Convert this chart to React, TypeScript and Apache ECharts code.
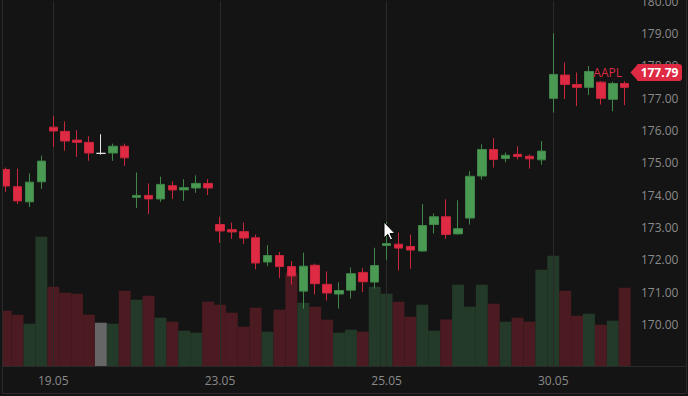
import React, { useEffect, useRef } from "react";
import * as echarts from "echarts";

// Hourly candles: 18.05 (last 4 hours), 19.05, 22.05, 23.05, 24.05, 25.05, 26.05, 30.05
const opens = [
  174.79, 174.26, 173.79, 174.41,
  176.10, 175.97, 175.70, 175.63, 175.29, 175.30, 175.51,
  173.93, 173.99, 173.88, 174.29, 174.16, 174.22, 174.36,
  173.09, 172.93, 172.87, 172.68, 171.93, 172.13, 171.79,
  171.03, 171.83, 171.24, 170.94, 171.06, 171.61, 171.31,
  172.44, 172.48, 172.41, 172.27, 173.09, 173.33, 172.80,
  173.29, 174.59, 175.41, 175.13, 175.26, 175.20, 175.09,
  176.99, 177.71, 177.42, 177.33, 177.49, 176.96, 177.45,
];
const closes = [
  174.28, 173.82, 174.40, 175.05,
  175.98, 175.67, 175.63, 175.30, 175.29, 175.51, 175.15,
  173.99, 173.88, 174.33, 174.16, 174.23, 174.36, 174.22,
  172.89, 172.86, 172.67, 171.90, 172.13, 171.79, 171.50,
  171.80, 171.26, 170.97, 171.05, 171.57, 171.32, 171.82,
  172.50, 172.36, 172.30, 173.06, 173.33, 172.78, 172.96,
  174.58, 175.41, 175.10, 175.23, 175.19, 175.12, 175.36,
  177.73, 177.42, 177.33, 177.82, 176.99, 177.45, 177.33,
];
const lows = [
  174.10, 173.72, 173.63, 174.19,
  175.49, 175.37, 175.18, 175.06, 175.25, 175.06, 174.90,
  173.60, 173.41, 173.79, 173.88, 173.82, 174.07, 174.00,
  172.52, 172.65, 172.49, 171.71, 171.80, 171.43, 171.23,
  170.49, 170.93, 170.74, 170.49, 170.80, 171.00, 171.11,
  172.00, 171.67, 171.72, 172.25, 172.81, 172.65, 172.78,
  173.09, 174.48, 174.85, 175.01, 175.10, 174.82, 174.94,
  176.55, 176.97, 176.75, 177.09, 176.80, 176.59, 176.78,
];
const highs = [
  174.85, 174.82, 174.67, 175.22,
  176.44, 176.28, 176.01, 175.82, 175.88, 175.59, 175.59,
  174.70, 174.36, 174.57, 174.43, 174.49, 174.61, 174.49,
  173.33, 173.15, 173.15, 172.78, 172.45, 172.24, 171.96,
  172.22, 171.88, 171.64, 171.30, 171.76, 171.74, 172.37,
  173.17, 172.84, 172.78, 173.72, 173.43, 173.87, 173.84,
  174.74, 175.57, 175.76, 175.32, 175.51, 175.26, 175.67,
  179.00, 178.10, 177.79, 177.99, 177.52, 177.51, 177.52,
];
// volume, millions of shares
const volumes = [
  2.79, 2.59, 2.14, 6.49,
  3.99, 3.69, 3.64, 2.59, 2.19, 2.14, 3.79,
  3.34, 3.54, 2.44, 2.24, 1.79, 1.69, 3.24,
  3.09, 2.69, 1.99, 2.94, 1.74, 2.84, 4.69,
  3.19, 2.99, 2.34, 1.69, 1.84, 1.74, 3.99,
  3.64, 3.24, 2.49, 3.09, 1.79, 2.35, 4.09,
  2.99, 4.09, 3.14, 2.24, 2.44, 2.24, 4.84,
  5.54, 3.79, 2.54, 2.64, 2.09, 2.29, 3.94,
];
const xTickIdx = [4, 18, 32, 46];
const xTickLabels = ["19.05", "23.05", "25.05", "30.05"];
const yTicks = [170, 171, 172, 173, 174, 175, 176, 177, 178, 179, 180];
const lastPrice = 177.79;
const symbolName = "AAPL";

const BG = "#141414";
const UP = "#4a9a54";
const UP_B = "#3f8648";
const DOWN = "#de2a43";
const DOWN_B = "#c9253b";
const VOL_UP = "#243a28";
const VOL_DOWN = "#4b1b21";
const VOL_FLAT = "#666666";
const TXT = "#8a8a8a";
const LINE = "#2a2a2a";
const FONT = "'Open Sans', 'Noto Sans', sans-serif";

export default function App() {
  const ref = useRef<HTMLDivElement>(null);
  useEffect(() => {
    if (!ref.current) return;
    const chart = echarts.init(ref.current, null, { renderer: "svg" });
    const candleData = opens.map((o, i) => {
      const item: any = { value: [i, o, closes[i], lows[i], highs[i]] };
      if (o === closes[i]) {
        item.itemStyle = {
          color: "#777777",
          color0: "#777777",
          borderColor: "#e6e6e6",
          borderColor0: "#e6e6e6",
        };
      }
      return item;
    });
    const volData = volumes.map((v, i) => ({
      value: [i, v],
      itemStyle: {
        color:
          opens[i] === closes[i] ? VOL_FLAT : closes[i] > opens[i] ? VOL_UP : VOL_DOWN,
      },
    }));
    chart.setOption({
      animation: false,
      backgroundColor: BG,
      textStyle: { fontFamily: FONT },
      grid: { left: 4, right: 52, top: 1, bottom: 29.5, outerBoundsMode: "none", containLabel: false },
      xAxis: {
        type: "value",
        min: -0.141,
        max: 52.95,
        axisLine: { show: false },
        axisTick: { show: false },
        splitLine: { show: false },
        axisLabel: {
          customValues: xTickIdx,
          color: TXT,
          fontSize: 12,
          fontFamily: FONT,
          margin: 8,
          formatter: (v: number) => {
            const k = xTickIdx.indexOf(Math.round(v));
            return k >= 0 ? xTickLabels[k] : "";
          },
        },
      },
      yAxis: [
        {
          type: "value",
          position: "right",
          min: 168.7,
          max: 180,
          splitLine: { show: false },
          axisLine: { show: false },
          axisTick: { show: false },
          axisLabel: {
            customValues: yTicks,
            color: TXT,
            fontSize: 12,
            fontFamily: FONT,
            margin: 5,
            formatter: (v: number) => v.toFixed(2),
          },
        },
        { type: "value", min: 0, max: 18.275, show: false },
      ],
      series: [
        {
          type: "bar",
          xAxisIndex: 0,
          yAxisIndex: 1,
          data: volData,
          barWidth: "100%",
          z: 1,
          silent: true,
          markLine: {
            z: 1.5,
            silent: true,
            symbol: ["none", "none"],
            label: { show: false },
            lineStyle: { color: LINE, type: "solid", width: 1 },
            emphasis: { disabled: true },
            data: xTickIdx.map((v) => ({ xAxis: v })),
          },
        },
        {
          type: "candlestick",
          xAxisIndex: 0,
          yAxisIndex: 0,
          data: candleData,
          barWidth: 9,
          z: 3,
          silent: true,
          itemStyle: {
            color: UP,
            color0: DOWN,
            borderColor: UP_B,
            borderColor0: DOWN_B,
            borderWidth: 1,
          },
        },
      ],
    });

    const py = chart.convertToPixel({ yAxisIndex: 0 }, lastPrice) as number;
    const cx = 384, cy = 222;
    const cursor = [
      [0, 0], [0, 16], [3.8, 12.4], [6.4, 18], [8.6, 17], [6, 11.6], [11, 11.6],
    ].map((p) => [cx + p[0], cy + p[1]]);
    chart.setOption({
      graphic: [
        { type: "rect", z: 99, silent: true, shape: { x: 0, y: 0, width: 2.5, height: 396 }, style: { fill: BG } },
        { type: "line", z: 100, silent: true, shape: { x1: 3, y1: 366.5, x2: 686, y2: 366.5 }, style: { stroke: LINE, lineWidth: 1 } },
        { type: "rect", z: 100, silent: true, shape: { x: 2.5, y: -1, width: 684, height: 394.5 }, style: { fill: "none", stroke: LINE, lineWidth: 1 } },
        {
          type: "text", z: 100, silent: true, x: 622, y: py,
          style: { text: symbolName, fill: DOWN, font: `12px ${FONT}`, textAlign: "right", textVerticalAlign: "middle" },
        },
        { type: "polygon", z: 100, silent: true, shape: { points: [[630.5, py], [638, py - 8.5], [638, py + 8.5]] }, style: { fill: DOWN } },
        { type: "rect", z: 100, silent: true, shape: { x: 637.5, y: py - 8.5, width: 44.5, height: 17, r: [0, 3, 3, 0] }, style: { fill: DOWN } },
        {
          type: "text", z: 101, silent: true, x: 659.5, y: py + 0.5,
          style: { text: lastPrice.toFixed(2), fill: "#ffffff", font: `bold 12px ${FONT}`, textAlign: "center", textVerticalAlign: "middle" },
        },
        { type: "polygon", z: 110, silent: true, shape: { points: cursor }, style: { fill: "#ffffff", stroke: "#000000", lineWidth: 1 } },
      ],
    });
    return () => chart.dispose();
  }, []);
  return (
    <div
      ref={ref}
      style={{ position: "absolute", left: 0, top: 0, width: 688, height: 396, background: BG }}
    />
  );
}
